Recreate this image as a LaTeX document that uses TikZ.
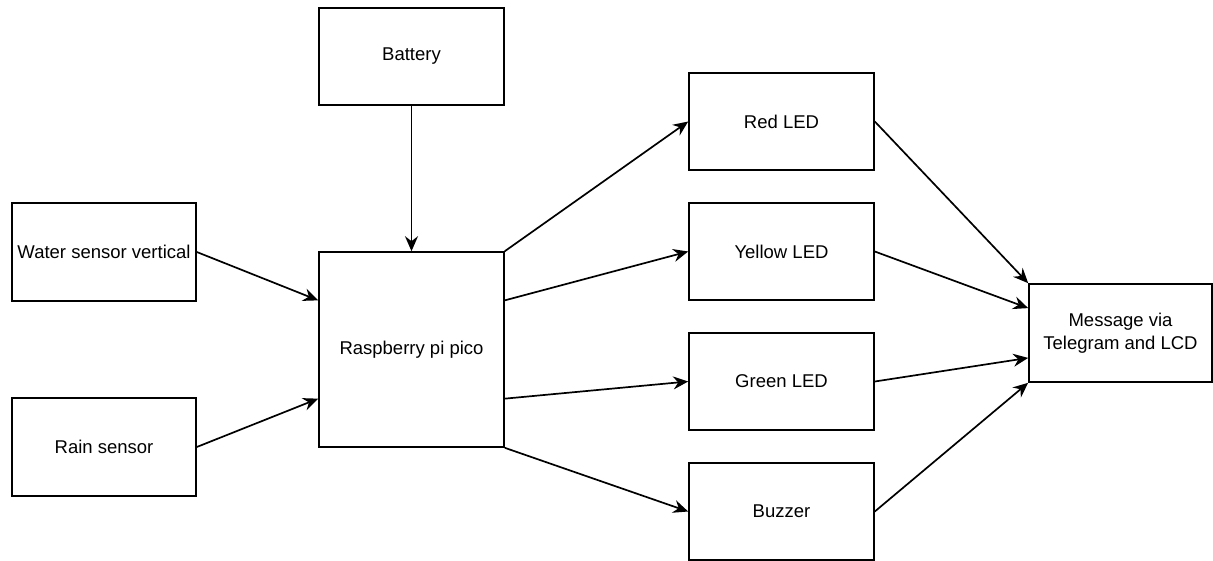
\documentclass[tikz,border=0pt]{standalone}
\usepackage{fontspec}
\setmainfont{Liberation Sans}
\usetikzlibrary{arrows.meta,calc}
\begin{document}
\begin{tikzpicture}[x=1pt,y=-1pt,
  box/.style={draw=black,line width=1.6pt,inner sep=0pt,minimum width=185pt,minimum height=97pt,font=\fontsize{18.5}{23}\selectfont,align=center},
  conn/.style={line width=1.7pt,-{Stealth[length=15pt,width=13pt,inset=5pt]}}]
\useasboundingbox (0,0) rectangle (1213,560);
\node[box] (bat) at (411.5,56.5) {Battery};
\node[box,minimum height=195pt] (pico) at (411.5,349.5) {Raspberry pi pico};
\node[box,minimum width=184pt,minimum height=98pt] (water) at (104,252) {Water sensor vertical};
\node[box,minimum width=184pt,minimum height=98pt] (rain) at (104,447) {Rain sensor};
\node[box] (red) at (781.5,121.5) {Red LED};
\node[box] (yellow) at (781.5,251.5) {Yellow LED};
\node[box] (green) at (781.5,381.5) {Green LED};
\node[box] (buzzer) at (781.5,511.5) {Buzzer};
\node[box,minimum width=183pt,minimum height=98pt] (msg) at (1120.5,333) {Message via\\Telegram and LCD};
\draw[conn] (bat.south) -- (pico.north);
\draw[conn] (water.east) -- ($(pico.north west)!.25!(pico.south west)$);
\draw[conn] (rain.east) -- ($(pico.north west)!.75!(pico.south west)$);
\draw[conn] (pico.north east) -- (red.west);
\draw[conn] ($(pico.north east)!.25!(pico.south east)$) -- (yellow.west);
\draw[conn] ($(pico.north east)!.75!(pico.south east)$) -- (green.west);
\draw[conn] (pico.south east) -- (buzzer.west);
\draw[conn] (red.east) -- (msg.north west);
\draw[conn] (yellow.east) -- ($(msg.north west)!.25!(msg.south west)$);
\draw[conn] (green.east) -- ($(msg.north west)!.75!(msg.south west)$);
\draw[conn] (buzzer.east) -- (msg.south west);
\end{tikzpicture}
\end{document}
